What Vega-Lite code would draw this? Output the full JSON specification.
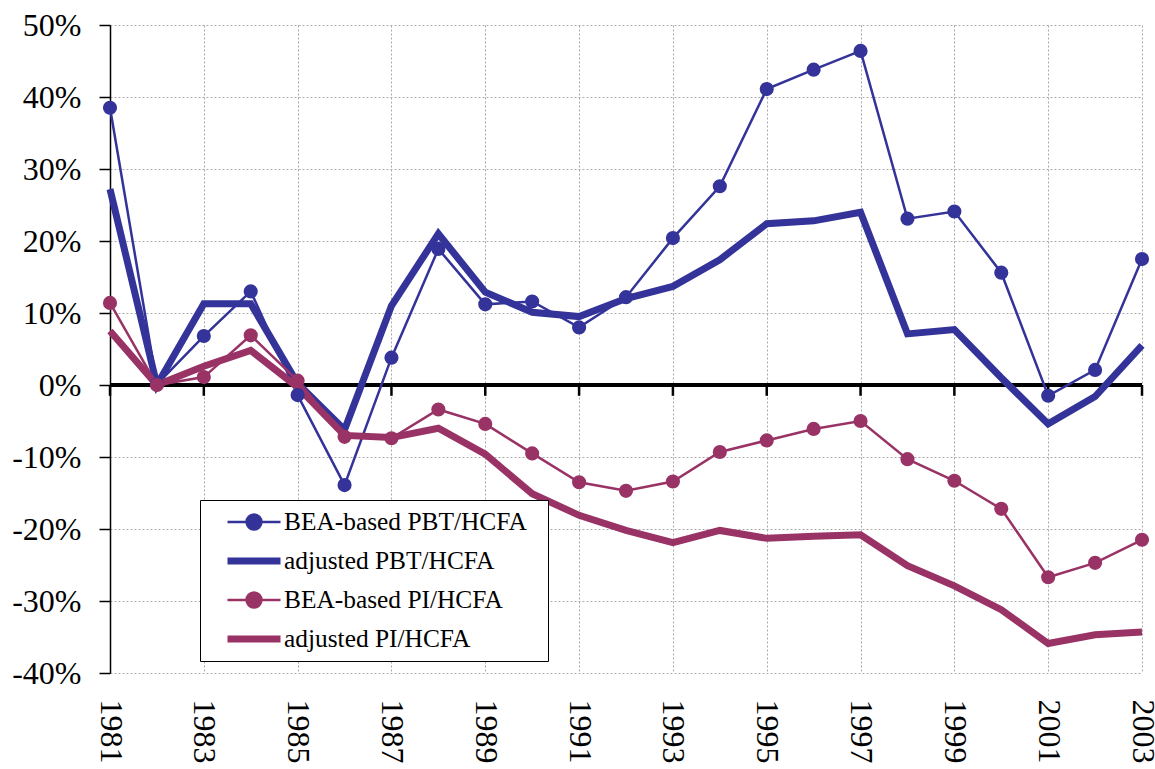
{
  "$schema": "https://vega.github.io/schema/vega-lite/v6.json",
  "width": 1032,
  "height": 648,
  "autosize": "none",
  "padding": {"left": 110, "top": 25, "right": 13, "bottom": 96},
  "background": "white",
  "config": {
    "view": {"stroke": null},
    "font": "Liberation Serif",
    "axis": {"labelFont": "Liberation Serif", "labelColor": "black"}
  },
  "data": {
    "values": [
      {"year": 1981, "series": "BEA-based PBT/HCFA", "value": 38.5},
      {"year": 1982, "series": "BEA-based PBT/HCFA", "value": 0.1},
      {"year": 1983, "series": "BEA-based PBT/HCFA", "value": 6.8},
      {"year": 1984, "series": "BEA-based PBT/HCFA", "value": 13.0},
      {"year": 1985, "series": "BEA-based PBT/HCFA", "value": -1.4},
      {"year": 1986, "series": "BEA-based PBT/HCFA", "value": -13.9},
      {"year": 1987, "series": "BEA-based PBT/HCFA", "value": 3.8},
      {"year": 1988, "series": "BEA-based PBT/HCFA", "value": 18.9},
      {"year": 1989, "series": "BEA-based PBT/HCFA", "value": 11.2},
      {"year": 1990, "series": "BEA-based PBT/HCFA", "value": 11.6},
      {"year": 1991, "series": "BEA-based PBT/HCFA", "value": 8.0},
      {"year": 1992, "series": "BEA-based PBT/HCFA", "value": 12.2},
      {"year": 1993, "series": "BEA-based PBT/HCFA", "value": 20.4},
      {"year": 1994, "series": "BEA-based PBT/HCFA", "value": 27.6},
      {"year": 1995, "series": "BEA-based PBT/HCFA", "value": 41.1},
      {"year": 1996, "series": "BEA-based PBT/HCFA", "value": 43.8},
      {"year": 1997, "series": "BEA-based PBT/HCFA", "value": 46.4},
      {"year": 1998, "series": "BEA-based PBT/HCFA", "value": 23.1},
      {"year": 1999, "series": "BEA-based PBT/HCFA", "value": 24.1},
      {"year": 2000, "series": "BEA-based PBT/HCFA", "value": 15.6},
      {"year": 2001, "series": "BEA-based PBT/HCFA", "value": -1.5},
      {"year": 2002, "series": "BEA-based PBT/HCFA", "value": 2.1},
      {"year": 2003, "series": "BEA-based PBT/HCFA", "value": 17.5},
      {"year": 1981, "series": "adjusted PBT/HCFA", "value": 27.2},
      {"year": 1982, "series": "adjusted PBT/HCFA", "value": 0.0},
      {"year": 1983, "series": "adjusted PBT/HCFA", "value": 11.3},
      {"year": 1984, "series": "adjusted PBT/HCFA", "value": 11.3},
      {"year": 1985, "series": "adjusted PBT/HCFA", "value": 0.2},
      {"year": 1986, "series": "adjusted PBT/HCFA", "value": -6.2},
      {"year": 1987, "series": "adjusted PBT/HCFA", "value": 11.0},
      {"year": 1988, "series": "adjusted PBT/HCFA", "value": 21.0},
      {"year": 1989, "series": "adjusted PBT/HCFA", "value": 12.9},
      {"year": 1990, "series": "adjusted PBT/HCFA", "value": 10.1},
      {"year": 1991, "series": "adjusted PBT/HCFA", "value": 9.5},
      {"year": 1992, "series": "adjusted PBT/HCFA", "value": 12.0},
      {"year": 1993, "series": "adjusted PBT/HCFA", "value": 13.7},
      {"year": 1994, "series": "adjusted PBT/HCFA", "value": 17.4},
      {"year": 1995, "series": "adjusted PBT/HCFA", "value": 22.4},
      {"year": 1996, "series": "adjusted PBT/HCFA", "value": 22.8},
      {"year": 1997, "series": "adjusted PBT/HCFA", "value": 24.0},
      {"year": 1998, "series": "adjusted PBT/HCFA", "value": 7.1},
      {"year": 1999, "series": "adjusted PBT/HCFA", "value": 7.7},
      {"year": 2000, "series": "adjusted PBT/HCFA", "value": 1.0},
      {"year": 2001, "series": "adjusted PBT/HCFA", "value": -5.4},
      {"year": 2002, "series": "adjusted PBT/HCFA", "value": -1.6},
      {"year": 2003, "series": "adjusted PBT/HCFA", "value": 5.5},
      {"year": 1981, "series": "BEA-based PI/HCFA", "value": 11.4},
      {"year": 1982, "series": "BEA-based PI/HCFA", "value": 0.0},
      {"year": 1983, "series": "BEA-based PI/HCFA", "value": 1.1},
      {"year": 1984, "series": "BEA-based PI/HCFA", "value": 6.9},
      {"year": 1985, "series": "BEA-based PI/HCFA", "value": 0.6},
      {"year": 1986, "series": "BEA-based PI/HCFA", "value": -7.2},
      {"year": 1987, "series": "BEA-based PI/HCFA", "value": -7.4},
      {"year": 1988, "series": "BEA-based PI/HCFA", "value": -3.4},
      {"year": 1989, "series": "BEA-based PI/HCFA", "value": -5.4},
      {"year": 1990, "series": "BEA-based PI/HCFA", "value": -9.5},
      {"year": 1991, "series": "BEA-based PI/HCFA", "value": -13.5},
      {"year": 1992, "series": "BEA-based PI/HCFA", "value": -14.7},
      {"year": 1993, "series": "BEA-based PI/HCFA", "value": -13.4},
      {"year": 1994, "series": "BEA-based PI/HCFA", "value": -9.3},
      {"year": 1995, "series": "BEA-based PI/HCFA", "value": -7.7},
      {"year": 1996, "series": "BEA-based PI/HCFA", "value": -6.1},
      {"year": 1997, "series": "BEA-based PI/HCFA", "value": -5.0},
      {"year": 1998, "series": "BEA-based PI/HCFA", "value": -10.3},
      {"year": 1999, "series": "BEA-based PI/HCFA", "value": -13.3},
      {"year": 2000, "series": "BEA-based PI/HCFA", "value": -17.2},
      {"year": 2001, "series": "BEA-based PI/HCFA", "value": -26.7},
      {"year": 2002, "series": "BEA-based PI/HCFA", "value": -24.7},
      {"year": 2003, "series": "BEA-based PI/HCFA", "value": -21.5},
      {"year": 1981, "series": "adjusted PI/HCFA", "value": 7.5},
      {"year": 1982, "series": "adjusted PI/HCFA", "value": 0.0},
      {"year": 1983, "series": "adjusted PI/HCFA", "value": 2.6},
      {"year": 1984, "series": "adjusted PI/HCFA", "value": 4.8},
      {"year": 1985, "series": "adjusted PI/HCFA", "value": -0.3},
      {"year": 1986, "series": "adjusted PI/HCFA", "value": -7.0},
      {"year": 1987, "series": "adjusted PI/HCFA", "value": -7.3},
      {"year": 1988, "series": "adjusted PI/HCFA", "value": -6.0},
      {"year": 1989, "series": "adjusted PI/HCFA", "value": -9.6},
      {"year": 1990, "series": "adjusted PI/HCFA", "value": -15.1},
      {"year": 1991, "series": "adjusted PI/HCFA", "value": -18.1},
      {"year": 1992, "series": "adjusted PI/HCFA", "value": -20.2},
      {"year": 1993, "series": "adjusted PI/HCFA", "value": -21.9},
      {"year": 1994, "series": "adjusted PI/HCFA", "value": -20.2},
      {"year": 1995, "series": "adjusted PI/HCFA", "value": -21.3},
      {"year": 1996, "series": "adjusted PI/HCFA", "value": -21.0},
      {"year": 1997, "series": "adjusted PI/HCFA", "value": -20.8},
      {"year": 1998, "series": "adjusted PI/HCFA", "value": -25.1},
      {"year": 1999, "series": "adjusted PI/HCFA", "value": -27.9},
      {"year": 2000, "series": "adjusted PI/HCFA", "value": -31.2},
      {"year": 2001, "series": "adjusted PI/HCFA", "value": -35.9},
      {"year": 2002, "series": "adjusted PI/HCFA", "value": -34.7},
      {"year": 2003, "series": "adjusted PI/HCFA", "value": -34.3}
    ]
  },
  "layer": [
    {
      "mark": {"type": "rule", "color": "black", "strokeWidth": 2.5},
      "encoding": {
        "y": {"datum": 0, "type": "quantitative", "scale": {"domain": [-40, 50], "nice": false, "zero": false}},
        "x": {"datum": 1981, "type": "quantitative"},
        "x2": {"datum": 2003}
      }
    },
    {
      "transform": [{"filter": "datum.series == 'BEA-based PBT/HCFA' && datum.year % 2 == 1"}],
      "mark": {"type": "rule", "color": "black", "strokeWidth": 2.5},
      "encoding": {
        "x": {"field": "year", "type": "quantitative"},
        "y": {"datum": 0, "type": "quantitative"},
        "y2": {"datum": -1.5}
      }
    },
    {
      "mark": {"type": "line", "strokeJoin": "miter"},
      "encoding": {
        "x": {
          "field": "year", "type": "quantitative",
          "scale": {"domain": [1981, 2003], "nice": false, "zero": false},
          "axis": {
            "title": null,
            "values": [1981, 1983, 1985, 1987, 1989, 1991, 1993, 1995, 1997, 1999, 2001, 2003],
            "format": "d",
            "labelAngle": 90,
            "labelFontSize": 32,
            "labelPadding": 26,
            "ticks": false,
            "domain": false,
            "grid": true,
            "gridColor": "#a8a8a8",
            "gridDash": [2, 2],
            "gridWidth": 1,
            "labelOverlap": false,
            "labelFlush": false
          }
        },
        "y": {
          "field": "value", "type": "quantitative",
          "scale": {"domain": [-40, 50], "nice": false, "zero": false},
          "axis": {
            "title": null,
            "values": [-40, -30, -20, -10, 0, 10, 20, 30, 40, 50],
            "labelExpr": "datum.value + '%'",
            "labelFontSize": 32,
            "labelPadding": 18,
            "tickSize": 11,
            "tickColor": "black",
            "tickWidth": 1.5,
            "domainColor": "black",
            "domainWidth": 1.5,
            "grid": true,
            "gridColor": "#a8a8a8",
            "gridDash": [2, 2],
            "gridWidth": 1,
            "labelFlush": false,
            "labelOverlap": false
          }
        },
        "color": {
          "field": "series", "type": "nominal",
          "sort": ["BEA-based PBT/HCFA", "adjusted PBT/HCFA", "BEA-based PI/HCFA", "adjusted PI/HCFA"],
          "scale": {
            "domain": ["BEA-based PBT/HCFA", "adjusted PBT/HCFA", "BEA-based PI/HCFA", "adjusted PI/HCFA"],
            "range": ["#333399", "#333399", "#993366", "#993366"]
          },
          "legend": {
            "title": null,
            "orient": "none",
            "legendX": 90,
            "legendY": 475,
            "direction": "vertical",
            "strokeColor": "black",
            "fillColor": "white",
            "padding": 3,
            "labelFont": "Liberation Serif",
            "labelFontSize": 25.4,
            "labelColor": "black",
            "labelExpr": "datum.label + '\u2800'",
            "labelLimit": 400,
            "symbolSize": 2809,
            "clipHeight": 38,
            "rowPadding": 1,
            "symbolOffset": 21,
            "labelOffset": 0,
            "encode": {
              "symbols": {
                "update": {
                  "shape": {"signal": "indexof(datum.value, 'BEA') == 0 ? 'M-1,0H1M0.28,0A0.28,0.28,0,1,1,-0.28,0A0.28,0.28,0,1,1,0.28,0Z' : 'M-1,0H1'"},
                  "stroke": {"signal": "indexof(datum.value, 'PBT') >= 0 ? '#333399' : '#993366'"},
                  "fill": {"signal": "indexof(datum.value, 'PBT') >= 0 ? '#333399' : '#993366'"},
                  "size": {"value": 2809},
                  "opacity": {"value": 1},
                  "fillOpacity": {"value": 1},
                  "strokeOpacity": {"value": 1}
                }
              }
            }
          }
        },
        "strokeWidth": {
          "field": "series", "type": "nominal",
          "scale": {
            "type": "ordinal",
            "domain": ["BEA-based PBT/HCFA", "adjusted PBT/HCFA", "BEA-based PI/HCFA", "adjusted PI/HCFA"],
            "range": [2.5, 7, 2.5, 7]
          },
          "legend": null
        }
      }
    },
    {
      "transform": [{"filter": "indexof(datum.series, 'BEA') == 0"}],
      "mark": {"type": "point", "filled": true, "opacity": 1, "size": 200},
      "encoding": {
        "x": {"field": "year", "type": "quantitative"},
        "y": {"field": "value", "type": "quantitative"},
        "color": {"field": "series", "type": "nominal"}
      }
    }
  ]
}
